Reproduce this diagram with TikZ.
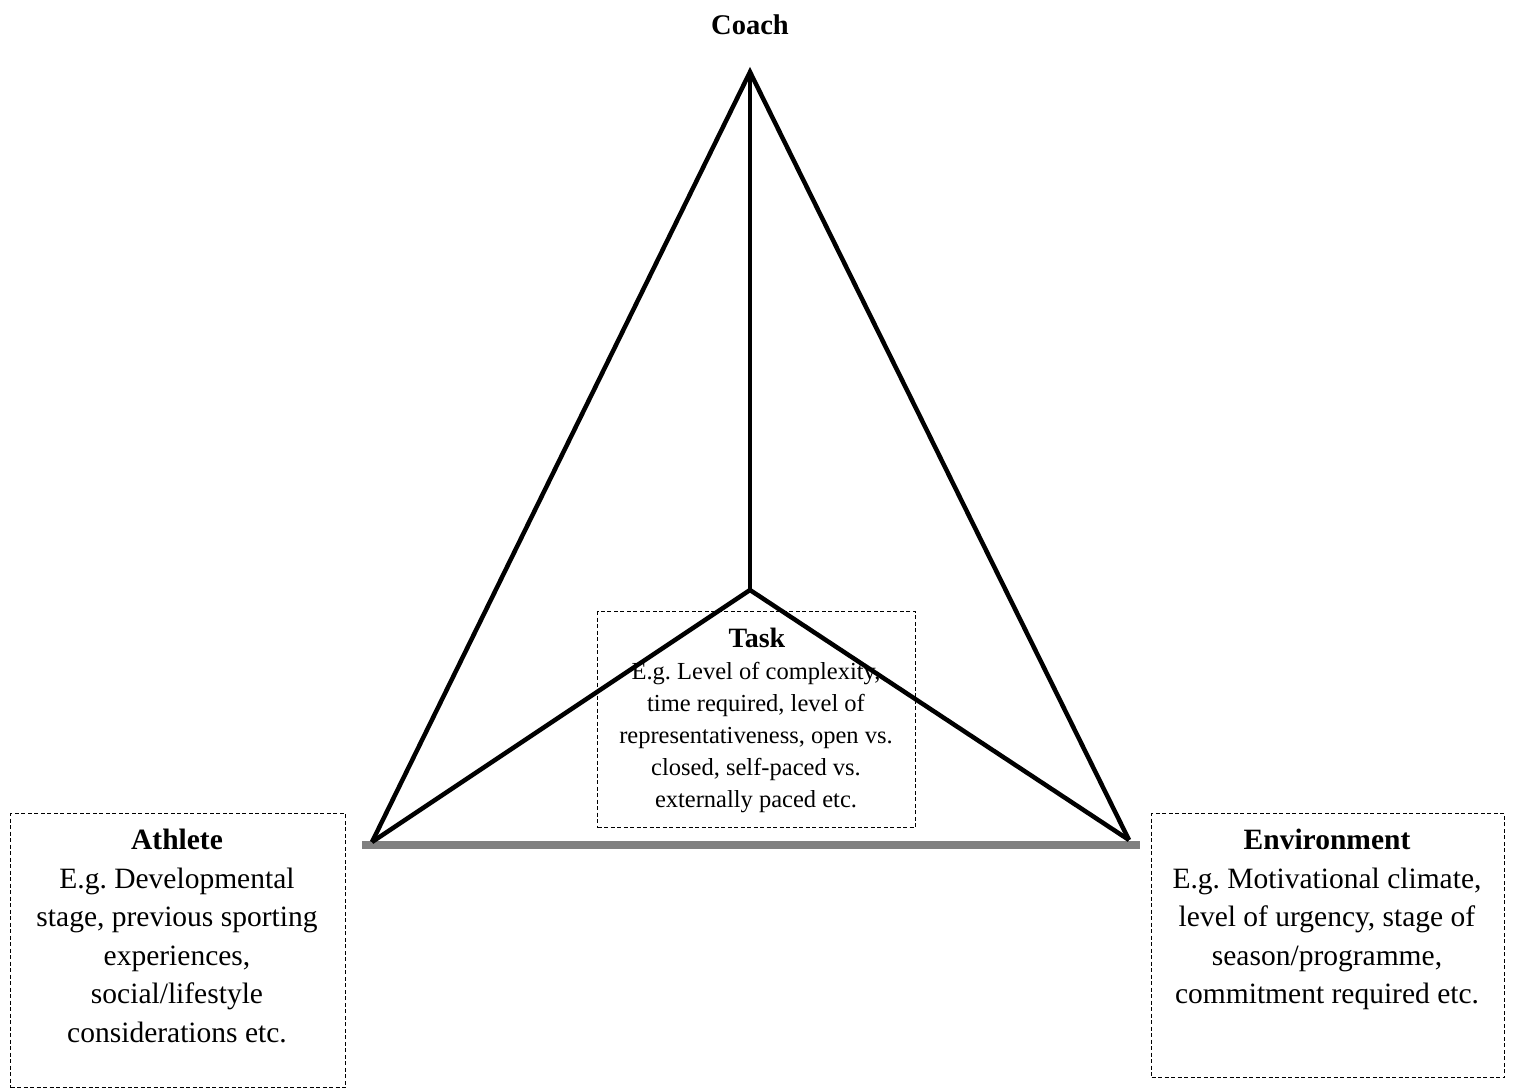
\documentclass[tikz,border=0pt]{standalone}
\usepackage{fontspec}
\setmainfont{Liberation Serif}
\begin{document}
\frenchspacing
\begin{tikzpicture}[x=1pt,y=-1pt,
  dashbox/.style={draw,line width=1.2pt,dash pattern=on 4pt off 2.5pt,inner sep=0pt},
  edge/.style={line width=4.5pt,black,line join=miter},
  base/.style={line width=8pt,black!50},
  lbl/.style={inner sep=0pt,align=center,font=\frenchspacing}
]
\useasboundingbox (0,0) rectangle (1513,1088);
% vertices
\coordinate (C) at (750,72);
\coordinate (T) at (750,590);
\coordinate (A) at (372,842);
\coordinate (E) at (1129,840);
\coordinate (Ab) at (362,845);
\coordinate (Eb) at (1140,845);
% boxes
\node[dashbox,minimum width=335pt,minimum height=274pt,anchor=north west] (athBox) at (10,813) {};
\node[dashbox,minimum width=353pt,minimum height=264pt,anchor=north west] (envBox) at (1151,813) {};
\node[dashbox,minimum width=318pt,minimum height=216pt,anchor=north west] (taskBox) at (597,611) {};
% labels
\node[lbl,font=\bfseries\fontsize{28.5}{30}\selectfont,anchor=base] (coach) at (750,34) {Coach};
\node[lbl,font=\fontsize{29.5}{38.5}\selectfont,anchor=north] (athText) at (177,829)
  {{\bfseries Athlete}\\E.g. Developmental\\stage, previous sporting\\experiences,\\social/lifestyle\\considerations etc.};
\node[lbl,font=\fontsize{29.5}{38.5}\selectfont,anchor=north] (envText) at (1327,829)
  {{\bfseries Environment}\\E.g. Motivational climate,\\level of urgency, stage of\\season/programme,\\commitment required etc.};
\node[lbl,font=\bfseries\fontsize{28}{30}\selectfont,anchor=base] (taskTitle) at (757,647) {Task};
\node[lbl,font=\fontsize{24.5}{32}\selectfont,anchor=north] (taskText) at (756,662)
  {E.g. Level of complexity,\\time required, level of\\representativeness, open vs.\\closed, self-paced vs.\\externally paced etc.};
% lines
\draw[base] (Ab) -- (Eb);
\draw[edge] (A) -- (C) -- (E);
\draw[edge] (A) -- (T) -- (E);
\draw[edge] (C) -- (T);
\end{tikzpicture}
\end{document}
